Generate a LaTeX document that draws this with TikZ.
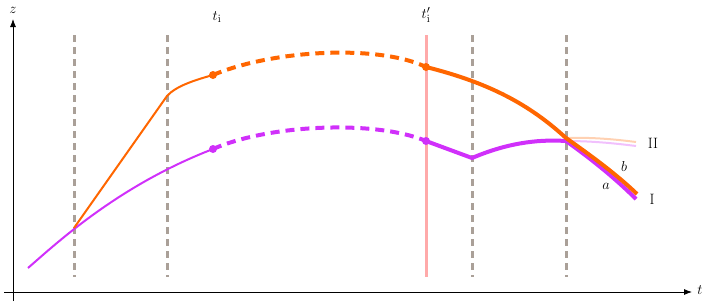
\documentclass[tikz,border=0pt]{standalone}
\usepackage{tikz}
\begin{document}
\begin{tikzpicture}[x=1pt,y=-1pt,
  axis/.style={line width=0.8pt,-{Latex[length=8pt,width=6pt]}},
  divider/.style={draw=divgray,line width=3pt,dash pattern=on 7pt off 5pt},
  thinorange/.style={draw=myorange,line width=2pt},
  thickorange/.style={draw=myorange,line width=4pt},
  dashorange/.style={draw=myorange,line width=4pt,dash pattern=on 9pt off 6pt},
  thinmag/.style={draw=mymag,line width=2pt},
  thickmag/.style={draw=mymag,line width=4pt},
  dashmag/.style={draw=mymag,line width=4pt,dash pattern=on 9pt off 6pt},
  dot/.style={circle,inner sep=0pt,minimum size=8pt},
  lbl/.style={inner sep=1pt,font=\fontsize{15}{18}\selectfont}]
\definecolor{myorange}{RGB}{255,102,0}
\definecolor{mymag}{RGB}{208,48,250}
\definecolor{divgray}{RGB}{170,160,152}
\definecolor{mypink}{RGB}{255,170,170}
\usetikzlibrary{arrows.meta}
\useasboundingbox (0,0) rectangle (708,306);
% axes
\coordinate (xs) at (4,292);
\coordinate (xe) at (692,292);
\coordinate (ys) at (13,301);
\coordinate (ye) at (13,19);
\draw[axis] (xs) -- (xe);
\draw[axis] (ys) -- (ye);
\node[lbl] (zlab) at (13,10) {$z$};
\node[lbl] (tlab) at (700,290) {$t$};
% dividers
\foreach \x/\n in {74/d1,167/d2,472/d3,566/d4}{
  \coordinate (\n t) at (\x,35);
  \coordinate (\n b) at (\x,277);
  \draw[divider] (\n t) -- (\n b);
}
\coordinate (rt) at (426,35);
\coordinate (rb) at (426,277);
\draw[draw=mypink,line width=3pt] (rt) -- (rb);
\node[lbl] (ti) at (217,17) {$t_{\mathrm{i}}$};
\node[lbl] (tpi) at (426,15) {$t'_{\mathrm{i}}$};
% key points
\coordinate (A) at (74,228);
\coordinate (O1) at (167,96);
\coordinate (O2) at (213,75);
\coordinate (O3) at (426,67);
\coordinate (O4) at (566,138);
\coordinate (O5) at (637,194);
\coordinate (M0) at (28,268);
\coordinate (M2) at (213,149);
\coordinate (M3) at (426,141);
\coordinate (M4) at (472,158);
\coordinate (M5) at (566,141);
\coordinate (M6) at (636,199);
% faint continuations
\draw[draw=myorange,opacity=0.3,line width=2pt] (O4) .. controls (595,137) and (620,140) .. (636,142);
\draw[draw=mymag,opacity=0.3,line width=2pt] (M5) .. controls (595,141) and (620,144) .. (636,146);
% magenta curve
\draw[thinmag] (M0) .. controls (60,240) and (120,185) .. (M2);
\draw[dashmag] (M2) .. controls (270,124) and (376,120) .. (M3);
\draw[thickmag] (M3) -- (M4) .. controls (505,144) and (535,139) .. (M5) .. controls (590,158) and (615,178) .. (M6);
% orange curve
\draw[thinorange] (A) -- (O1) .. controls (176,86) and (195,80) .. (O2);
\draw[dashorange] (O2) .. controls (272,50) and (378,44) .. (O3);
\draw[thickorange] (O3) .. controls (490,83) and (530,105) .. (O4) .. controls (590,155) and (615,173) .. (O5);
% dots
\node[dot,fill=myorange] (p1) at (O2) {};
\node[dot,fill=myorange] (p2) at (O3) {};
\node[dot,fill=mymag] (p3) at (M2) {};
\node[dot,fill=mymag] (p4) at (M3) {};
% labels
\node[lbl] (II) at (653,143) {II};
\node[lbl] (I) at (652,199) {I};
\node[lbl] (b) at (624,166) {$b$};
\node[lbl] (a) at (606,186) {$a$};
\end{tikzpicture}
\end{document}
